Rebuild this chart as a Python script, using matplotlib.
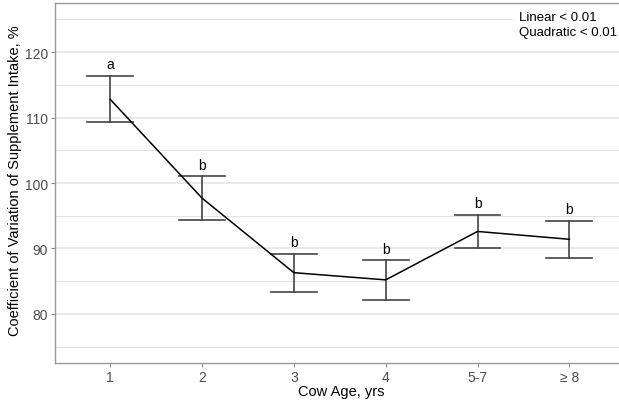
"""
Coefficient of variation of supplement intake by cow age.
"""

import matplotlib.pyplot as plt
from matplotlib.ticker import MultipleLocator

plt.rcParams['font.family'] = ['Liberation Sans', 'DejaVu Sans']

# Data
age_groups = ["1", "2", "3", "4", "5-7", "\u2265 8"]
cv_mean = [112.8, 97.7, 86.3, 85.2, 92.6, 91.4]
cv_upper = [116.4, 101.0, 89.2, 88.2, 95.1, 94.2]
cv_lower = [109.3, 94.4, 83.4, 82.2, 90.1, 88.6]
letters = ["a", "b", "b", "b", "b", "b"]

x = list(range(1, len(age_groups) + 1))

fig = plt.figure(figsize=(6.19, 4.02), dpi=100)
ax = fig.add_axes([55 / 619, 38 / 402, 569.5 / 619, 360 / 402])

# Grid
ax.yaxis.set_major_locator(MultipleLocator(10))
ax.yaxis.set_minor_locator(MultipleLocator(5))
ax.grid(axis='y', which='major', color='#e3e3e3', linewidth=1.1, zorder=0)
ax.grid(axis='y', which='minor', color='#e3e3e3', linewidth=0.8, zorder=0)
ax.grid(axis='x', visible=False)

# Error bars
for xi, lo, hi in zip(x, cv_lower, cv_upper):
    ax.plot([xi, xi], [lo, hi], color='#444444', lw=1.2, zorder=2)
    ax.plot([xi - 0.25, xi + 0.25], [hi, hi], color='#444444', lw=1.2, zorder=2)
    ax.plot([xi - 0.25, xi + 0.25], [lo, lo], color='#444444', lw=1.2, zorder=2)

# Mean line
ax.plot(x, cv_mean, color='black', lw=1.1, zorder=3)

# Significance letters
for xi, hi, lab in zip(x, cv_upper, letters):
    ax.text(xi, hi + 0.7, lab, ha='center', va='bottom', fontsize=10,
            color='black')

# Contrast annotation
ax.text(5.45, 126.3, "Linear < 0.01\nQuadratic < 0.01", ha='left', va='top',
        fontsize=9.5, linespacing=1.3, color='black', zorder=5,
        bbox=dict(facecolor='white', edgecolor='none', pad=4))

ax.set_xlim(0.4, 6.6)
ax.set_ylim(72.5, 127.5)
ax.set_xticks(x)
ax.set_xticklabels(age_groups)

ax.tick_params(axis='both', which='major', length=3, color='#888888',
               labelsize=10, labelcolor='#4d4d4d', pad=2)
ax.tick_params(axis='y', which='minor', length=0)

for side in ['left', 'bottom', 'top', 'right']:
    ax.spines[side].set_color('#999999')
    ax.spines[side].set_linewidth(1.0)

# Axis titles
ax.set_xlabel("Cow Age, yrs", fontsize=10.5, va='center')
ax.xaxis.set_label_coords((341 - 55) / 569.5, (10 - 38) / 360)
ax.set_ylabel("Coefficient of Variation of Supplement Intake, %", fontsize=10.5,
              va='center', ha='center')
ax.yaxis.set_label_coords((15 - 55) / 569.5, (221 - 38) / 360)

fig.savefig("out.png", dpi=100)
